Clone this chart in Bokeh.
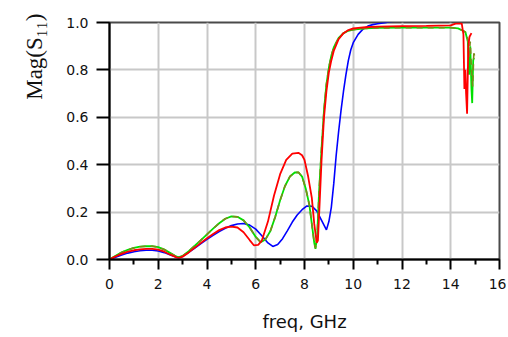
import math
from bokeh.plotting import figure
from bokeh.models import Range1d, FixedTicker, Title
from bokeh.embed import file_html
from bokeh.resources import INLINE

# ---- data ----
blue_x = [0, 0.25, 0.5, 0.75, 1.0, 1.25, 1.5, 1.75, 2.0, 2.25, 2.5, 2.75, 2.85, 3.0, 3.25, 3.5, 3.75,
          4.0, 4.25, 4.5, 4.75, 5.0, 5.25, 5.5, 5.75, 6.0, 6.25, 6.5, 6.7, 6.9, 7.1, 7.3, 7.5, 7.7,
          7.9, 8.1, 8.3, 8.5, 8.7, 8.9, 9.0, 9.1, 9.2, 9.3, 9.4, 9.5, 9.6, 9.7, 9.8, 9.9, 10.0,
          10.2, 10.4, 10.6, 10.8, 11.0, 11.3, 11.5, 12.0, 13.0, 14.0, 15.0]
blue_y = [0, 0.010, 0.019, 0.027, 0.033, 0.037, 0.039, 0.039, 0.036, 0.029, 0.019, 0.010, 0.008,
          0.013, 0.030, 0.048, 0.067, 0.085, 0.102, 0.118, 0.132, 0.143, 0.150, 0.152, 0.145,
          0.128, 0.100, 0.070, 0.055, 0.063, 0.088, 0.122, 0.158, 0.188, 0.210, 0.226, 0.225,
          0.205, 0.165, 0.125, 0.160, 0.220, 0.320, 0.440, 0.540, 0.630, 0.710, 0.780, 0.840,
          0.885, 0.915, 0.950, 0.972, 0.985, 0.991, 0.995, 0.999, 1.003, 1.010, 1.010, 1.010, 1.010]

green_x = [0, 0.25, 0.5, 0.75, 1.0, 1.25, 1.5, 1.75, 2.0, 2.25, 2.5, 2.75, 2.85, 3.0, 3.25, 3.5,
           3.75, 4.0, 4.25, 4.5, 4.75, 5.0, 5.25, 5.5, 5.75, 6.0, 6.2, 6.4, 6.6, 6.8, 7.0, 7.2,
           7.4, 7.6, 7.75, 7.9, 8.05, 8.2, 8.3, 8.4, 8.45, 8.52, 8.6, 8.7, 8.8, 8.9, 9.0, 9.1,
           9.2, 9.4, 9.6, 9.8, 10.0, 10.5, 11.0, 12.0, 13.0, 14.0, 14.3, 14.5, 14.6, 14.7, 14.75,
           14.8, 14.85, 14.88, 14.92, 14.95]
green_y = [0, 0.016, 0.030, 0.041, 0.049, 0.054, 0.056, 0.056, 0.052, 0.042, 0.027, 0.012, 0.010,
           0.015, 0.035, 0.058, 0.082, 0.106, 0.130, 0.153, 0.172, 0.182, 0.180, 0.165, 0.135,
           0.095, 0.073, 0.085, 0.120, 0.180, 0.250, 0.310, 0.350, 0.367, 0.368, 0.350, 0.300,
           0.230, 0.150, 0.070, 0.045, 0.100, 0.290, 0.470, 0.630, 0.740, 0.810, 0.860, 0.895,
           0.935, 0.955, 0.965, 0.970, 0.975, 0.977, 0.978, 0.978, 0.978, 0.975, 0.965, 0.960,
           0.920, 0.780, 0.900, 0.720, 0.660, 0.840, 0.850]

olive_x = [0, 0.25, 0.5, 0.75, 1.0, 1.25, 1.5, 1.75, 2.0, 2.25, 2.5, 2.75, 2.85, 3.0, 3.25, 3.5,
           3.75, 4.0, 4.25, 4.5, 4.75, 5.0, 5.25, 5.5, 5.75, 6.0, 6.2, 6.4, 6.6, 6.8, 7.0, 7.2,
           7.4, 7.6, 7.75, 7.9, 8.05, 8.2, 8.3, 8.4, 8.45, 8.52, 8.6, 8.7, 8.8, 8.9, 9.0, 9.1,
           9.2, 9.4, 9.6, 9.8, 10.0, 10.5, 11.0, 12.0, 13.0, 14.0, 14.3, 14.5, 14.6, 14.7, 14.75,
           14.8, 14.85, 14.9, 14.95, 14.97]
olive_y = [0, 0.016, 0.030, 0.041, 0.049, 0.054, 0.056, 0.056, 0.052, 0.042, 0.027, 0.012, 0.010,
           0.015, 0.035, 0.058, 0.082, 0.106, 0.130, 0.153, 0.172, 0.182, 0.180, 0.165, 0.135,
           0.095, 0.073, 0.085, 0.120, 0.180, 0.250, 0.310, 0.350, 0.367, 0.368, 0.350, 0.300,
           0.230, 0.150, 0.070, 0.048, 0.100, 0.290, 0.470, 0.630, 0.740, 0.810, 0.860, 0.895,
           0.935, 0.955, 0.965, 0.970, 0.975, 0.977, 0.978, 0.978, 0.978, 0.975, 0.965, 0.960,
           0.930, 0.850, 0.920, 0.800, 0.730, 0.880, 0.860]

red_x = [0, 0.25, 0.5, 0.75, 1.0, 1.25, 1.5, 1.75, 2.0, 2.25, 2.5, 2.75, 2.85, 3.0, 3.25, 3.5,
         3.75, 4.0, 4.25, 4.5, 4.75, 5.0, 5.25, 5.5, 5.75, 5.92, 6.1, 6.25, 6.5, 6.75, 7.0, 7.25,
         7.5, 7.75, 7.9, 8.0, 8.15, 8.3, 8.4, 8.5, 8.55, 8.6, 8.7, 8.8, 8.9, 9.0, 9.1, 9.2, 9.4,
         9.6, 9.8, 10.0, 10.5, 11.0, 12.0, 13.0, 14.0, 14.2, 14.45, 14.52, 14.56, 14.6, 14.63,
         14.67, 14.72, 14.77, 14.85]
red_y = [0, 0.013, 0.024, 0.033, 0.039, 0.043, 0.045, 0.045, 0.042, 0.033, 0.020, 0.009, 0.007,
         0.012, 0.030, 0.050, 0.070, 0.090, 0.108, 0.124, 0.135, 0.139, 0.135, 0.115, 0.082,
         0.060, 0.062, 0.080, 0.160, 0.270, 0.360, 0.420, 0.447, 0.450, 0.440, 0.420, 0.350,
         0.260, 0.150, 0.070, 0.080, 0.190, 0.420, 0.600, 0.710, 0.790, 0.840, 0.880, 0.930,
         0.955, 0.968, 0.975, 0.980, 0.983, 0.985, 0.986, 0.988, 0.995, 0.996, 0.950, 0.720,
         0.800, 0.700, 0.615, 0.900, 0.940, 0.955]

x_ticks = [0, 2, 4, 6, 8, 10, 12, 14, 16]
x_minor = [1, 3, 5, 7, 9, 11, 13, 15]
y_ticks = [0.0, 0.2, 0.4, 0.6, 0.8, 1.0]
y_tick_labels = ["0.0", "0.2", "0.4", "0.6", "0.8", "1.0"]
y_title = "Mag(S\u2081\u2081)"

W, H = 506, 334

# ---- figure ----
p = figure(width=W, height=H, output_backend="svg", toolbar_location=None,
           x_range=Range1d(0, 16), y_range=Range1d(0, 1),
           min_border_left=109, min_border_right=7, min_border_top=22, min_border_bottom=75)
p.background_fill_color = "white"
p.border_fill_color = "white"
p.outline_line_color = "#4a4a4a"
p.outline_line_width = 2

# grid
p.xgrid.ticker = FixedTicker(ticks=x_ticks)
p.ygrid.ticker = FixedTicker(ticks=y_ticks)
for g in (p.xgrid, p.ygrid):
    g.grid_line_color = "#c8c8c8"
    g.grid_line_width = 2

# x axis
xa = p.xaxis[0]
xa.ticker = FixedTicker(ticks=x_ticks, minor_ticks=x_minor)
xa.axis_line_color = "black"
xa.axis_line_width = 2
xa.major_tick_line_color = "black"
xa.major_tick_line_width = 2
xa.major_tick_in = 0
xa.major_tick_out = 10
xa.minor_tick_line_color = "black"
xa.minor_tick_line_width = 2
xa.minor_tick_in = 0
xa.minor_tick_out = 5
xa.major_label_text_font = "DejaVu Sans"
xa.major_label_text_font_size = "14px"
xa.major_label_text_color = "#111111"
xa.major_label_standoff = 9
xa.axis_label = "freq, GHz"
xa.axis_label_text_font = "DejaVu Sans"
xa.axis_label_text_font_size = "18px"
xa.axis_label_text_font_style = "normal"
xa.axis_label_text_color = "#111111"
xa.axis_label_standoff = 19

# y axis
ya = p.yaxis[0]
ya.ticker = FixedTicker(ticks=y_ticks)
ya.major_label_overrides = {t: s for t, s in zip(y_ticks, y_tick_labels)}
ya.axis_line_color = "black"
ya.axis_line_width = 2
ya.major_tick_line_color = "black"
ya.major_tick_line_width = 2
ya.major_tick_in = 0
ya.major_tick_out = 13
ya.minor_tick_line_color = None
ya.major_label_text_font = "DejaVu Sans"
ya.major_label_text_font_size = "14px"
ya.major_label_text_color = "#111111"
ya.major_label_standoff = 8

# curves
p.line(blue_x, blue_y, line_color="#0000ff", line_width=1.6)
p.line(green_x, green_y, line_color="#00e000", line_width=1.8)
p.line(olive_x, olive_y, line_color="#7d8a1a", line_width=1.6, line_dash="6 5")
p.line(red_x, red_y, line_color="#ff0000", line_width=1.8)

# y axis label, rotated, placed at the top end of the left side
p.add_layout(Title(text=y_title, align="right", text_font="Liberation Serif",
                   text_font_size="23px", text_font_style="normal", text_color="#111111",
                   standoff=34, offset=-9), "left")

open("out.html", "w").write(file_html(p, INLINE))
